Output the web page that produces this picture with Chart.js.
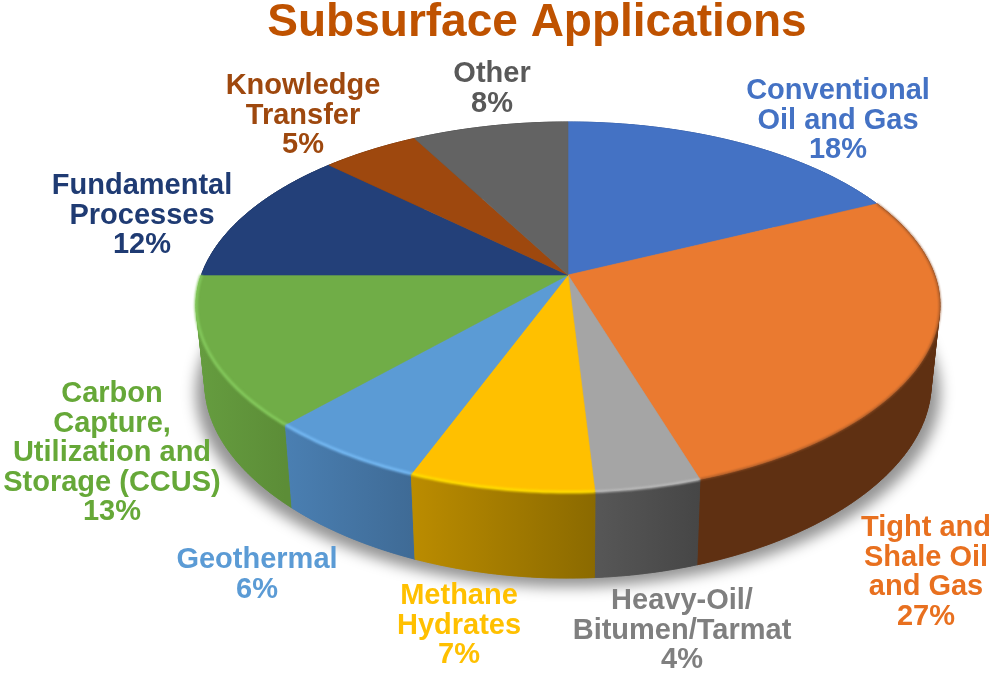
<!DOCTYPE html>
<html>
<head>
<meta charset="utf-8">
<title>Subsurface Applications</title>
<script src="https://cdn.jsdelivr.net/npm/chart.js@4"></script>
<style>
  html, body { margin: 0; padding: 0; background: #fff; }
  canvas { display: block; }
</style>
</head>
<body>
<canvas id="chart" width="1000" height="678"></canvas>
<script>
// Chart data, clockwise from twelve o'clock
const categories = ['Conventional Oil and Gas', 'Tight and Shale Oil and Gas', 'Heavy-Oil/Bitumen/Tarmat', 'Methane Hydrates', 'Geothermal', 'Carbon Capture, Utilization and Storage (CCUS)', 'Fundamental Processes', 'Knowledge Transfer', 'Other'];
const shares = [18, 27, 4, 7, 6, 13, 12, 5, 8];
const labelLines = [
    ['Conventional', 'Oil and Gas'],
    ['Tight and', 'Shale Oil', 'and Gas'],
    ['Heavy-Oil/', 'Bitumen/Tarmat'],
    ['Methane', 'Hydrates'],
    ['Geothermal'],
    ['Carbon', 'Capture,', 'Utilization and', 'Storage (CCUS)'],
    ['Fundamental', 'Processes'],
    ['Knowledge', 'Transfer'],
    ['Other'],
];

// Slice styling
const topColors = ['#4472C4', '#EA7A30', '#A5A5A5', '#FFC000', '#5B9BD5', '#70AD47', '#234079', '#9E480E', '#636363'];
const wallLeft = ['#345a9c', '#5f3012', '#575757', '#bb8c00', '#4a7fb2', '#659c3f', '#1a3058', '#74350a', '#4a4a4a'];
const wallRight = ['#345a9c', '#5f3012', '#464646', '#8b6a00', '#3f6b96', '#5c8d37', '#1a3058', '#74350a', '#4a4a4a'];
const rimColors = [null, '#9a5428', '#bdbdbd', '#ffdc00', '#74b8f2', '#84c95c', null, null, null];
const rimWidths = [0, 1.6, 2.4, 3, 3, 3, 0, 0, 0];
const labelColors = ['#4472C4', '#E8701F', '#7F7F7F', '#FFC000', '#5B9BD5', '#66A838', '#1F3B73', '#9E480E', '#595959'];
const labelCenters = [[838, 91], [926, 528], [682, 601], [459, 596], [257, 560], [112, 394], [142, 186], [303, 86], [492, 74]];
const labelLeading = 29.5;

// Perspective of the pie, fitted to the picture
const centerX = 568, centerY = 275;
const topRx = 366.6, topRy = 179.5;
const baseRx = 358, baseY = 352, baseRy = 187;
const tilt = 0.173;
const frontSquash = 0.03;

// Maps an arc angle onto the top face or the base of the disc
function project(angle, isBase) {
    const u = Math.cos(angle);
    const v = Math.sin(angle);
    const w = 1 - tilt * v;
    const squash = v > 0 ? 1 - frontSquash * v * v : 1;
    if (isBase) {
        return [centerX + baseRx * squash * u / w, baseY + baseRy * v / w];
    }
    return [centerX + topRx * squash * u / w, centerY + topRy * v / w];
}

// Walks along an arc in steps of about a degree
function traceArc(ctx, from, to, isBase, moveFirst) {
    const steps = Math.max(2, Math.ceil(Math.abs(to - from) / (Math.PI / 180)));
    for (let i = 0; i <= steps; i++) {
        const p = project(from + (to - from) * i / steps, isBase);
        if (i === 0 && moveFirst) {
            ctx.moveTo(p[0], p[1]);
        } else {
            ctx.lineTo(p[0], p[1]);
        }
    }
}

// Replaces the flat slices with the tilted disc, using the angles of the library's arcs
const disc3d = {
    id: 'disc3d',
    beforeDatasetDraw(chart) {
        const ctx = chart.ctx;
        const arcs = chart.getDatasetMeta(0).data;
        ctx.save();

        // Soft shadow round the foot of the disc
        ctx.save();
        ctx.filter = 'blur(7px)';
        ctx.fillStyle = 'rgba(0,0,0,0.42)';
        ctx.translate(centerX, 0);
        ctx.scale(1.025, 1);
        ctx.translate(-centerX, 9);
        ctx.beginPath();
        traceArc(ctx, 0, Math.PI * 2, true, true);
        ctx.closePath();
        ctx.fill();
        ctx.restore();

        // Walls, back slices first
        const order = arcs.map((a, i) => i).sort((a, b) => {
            const midA = (arcs[a].startAngle + arcs[a].endAngle) / 2;
            const midB = (arcs[b].startAngle + arcs[b].endAngle) / 2;
            return Math.sin(midA) - Math.sin(midB);
        });
        order.forEach(i => {
            const arc = arcs[i];
            const xA = project(arc.startAngle, false)[0];
            const xB = project(arc.endAngle, false)[0];
            const grad = ctx.createLinearGradient(Math.min(xA, xB), 0, Math.max(xA, xB), 0);
            grad.addColorStop(0, wallLeft[i]);
            grad.addColorStop(1, wallRight[i]);
            ctx.fillStyle = grad;
            ctx.strokeStyle = grad;
            ctx.lineWidth = 0.6;

            // Thin strips keep the outline full where the wall turns away
            const steps = Math.ceil((arc.endAngle - arc.startAngle) / (Math.PI / 180));
            for (let s = 0; s < steps; s++) {
                const a1 = arc.startAngle + (arc.endAngle - arc.startAngle) * s / steps;
                const a2 = arc.startAngle + (arc.endAngle - arc.startAngle) * (s + 1) / steps;
                ctx.beginPath();
                traceArc(ctx, a1, a2, false, true);
                traceArc(ctx, a2, a1, true, false);
                ctx.closePath();
                ctx.fill();
                ctx.stroke();
            }

            // One band on top hides the seams between the strips
            ctx.beginPath();
            traceArc(ctx, arc.startAngle, arc.endAngle, false, true);
            traceArc(ctx, arc.endAngle, arc.startAngle, true, false);
            ctx.closePath();
            ctx.fill();
            ctx.stroke();
        });

        // Top face
        arcs.forEach(arc => {
            ctx.fillStyle = arc.options.backgroundColor;
            ctx.strokeStyle = arc.options.backgroundColor;
            ctx.lineWidth = 0.6;
            ctx.beginPath();
            ctx.moveTo(centerX, centerY);
            traceArc(ctx, arc.startAngle, arc.endAngle, false, false);
            ctx.closePath();
            ctx.fill();
            ctx.stroke();
        });

        // Lit bevel along the front edge
        ctx.lineCap = 'butt';
        ctx.filter = 'blur(0.9px)';
        arcs.forEach((arc, i) => {
            if (!rimColors[i]) return;
            ctx.strokeStyle = rimColors[i];
            ctx.lineWidth = rimWidths[i];
            ctx.beginPath();
            traceArc(ctx, arc.startAngle, arc.endAngle, false, true);
            ctx.stroke();
        });
        ctx.filter = 'none';

        ctx.restore();
        return false;
    },
    afterDatasetsDraw(chart) {
        const ctx = chart.ctx;
        ctx.save();
        ctx.font = 'bold 29px "Liberation Sans", Arial, sans-serif';
        ctx.textAlign = 'center';
        ctx.textBaseline = 'middle';
        categories.forEach((name, i) => {
            ctx.fillStyle = labelColors[i];
            const lines = labelLines[i].concat(shares[i] + '%');
            lines.forEach((line, n) => {
                ctx.fillText(line, labelCenters[i][0], labelCenters[i][1] + n * labelLeading);
            });
        });
        ctx.restore();
    },
};

new Chart(document.getElementById('chart'), {
    type: 'pie',
    data: {
        labels: categories,
        datasets: [{
            data: shares,
            backgroundColor: topColors,
            borderWidth: 0,
        }],
    },
    options: {
        responsive: false,
        animation: false,
        layout: { padding: { left: 74 } },
        plugins: {
            legend: { display: false },
            tooltip: { enabled: false },
            title: {
                display: true,
                text: 'Subsurface Applications',
                color: '#BF5200',
                fullSize: false,
                font: { family: '"Liberation Sans", Arial, sans-serif', size: 46, weight: 'bold' },
                padding: { top: -4, bottom: 0 },
            },
        },
    },
    plugins: [disc3d],
});
</script>
</body>
</html>
